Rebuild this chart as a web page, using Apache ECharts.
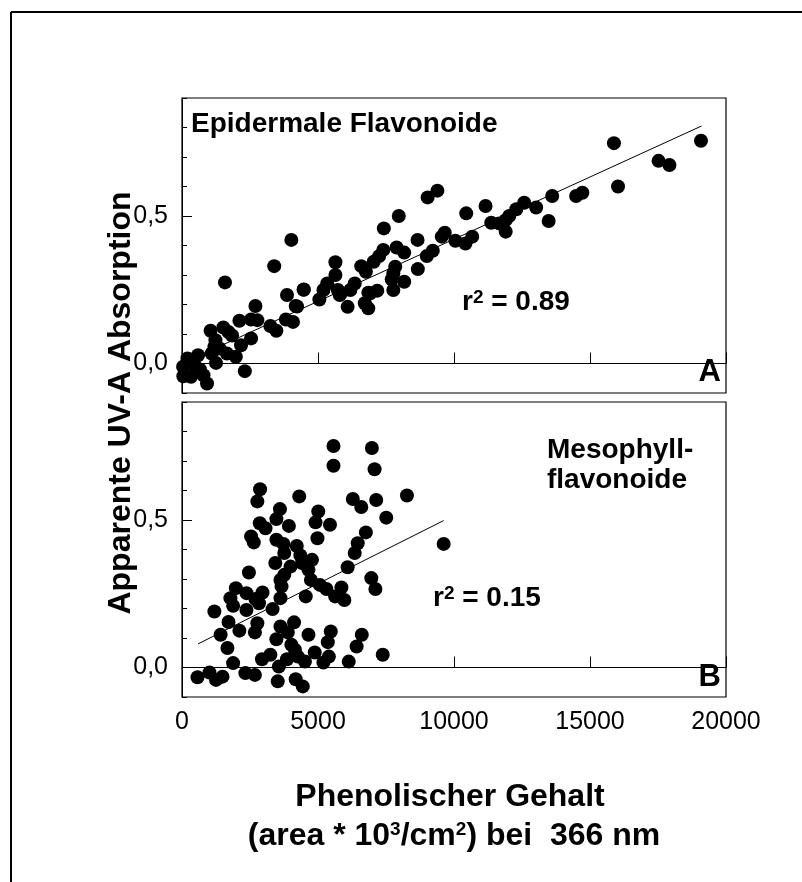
<!DOCTYPE html>
<html>
<head>
<meta charset="utf-8">
<script src="https://cdn.jsdelivr.net/npm/echarts@6/dist/echarts.min.js"></script>
<style>
  html, body { margin: 0; padding: 0; background: #fff; }
  #chart { width: 802px; height: 882px; }
</style>
</head>
<body>
<div id="chart"></div>
<script>
// Axis ticks
const xTicks = [0, 5000, 10000, 15000, 20000];
const yMajorTicks = [0, 0.5];

// Panel A: epidermal flavonoids [phenolic content, apparent UV-A absorption]
const epidermalPoints = [
  [15880,0.747],[19080,0.755],[17520,0.687],[17920,0.673],[16030,0.600],[13610,0.568],
  [14490,0.568],[14720,0.579],[13020,0.529],[12580,0.545],[12290,0.523],[12030,0.500],
  [11900,0.486],[11660,0.475],[11900,0.447],[13480,0.483],[11160,0.534],[11370,0.477],
  [10450,0.509],[10670,0.430],[10420,0.407],[10050,0.416],[9660,0.443],[9550,0.430],
  [9390,0.586],[9030,0.563],[7970,0.500],[7420,0.458],[8660,0.419],[9220,0.382],
  [9000,0.364],[8670,0.320],[7890,0.393],[8170,0.376],[7400,0.385],[7250,0.364],
  [7050,0.345],[6590,0.330],[6760,0.311],[7840,0.328],[7770,0.305],[7710,0.285],
  [8170,0.277],[7770,0.249],[7180,0.247],[6850,0.240],[6720,0.204],[6850,0.187],
  [6350,0.271],[6190,0.249],[6090,0.192],[5730,0.249],[5800,0.232],[5640,0.343],
  [5640,0.300],[5340,0.271],[5200,0.249],[5050,0.217],[4480,0.251],[4180,0.195],
  [3860,0.232],[4020,0.419],[3390,0.330],[3820,0.149],[4080,0.141],[3250,0.127],
  [3470,0.111],[2700,0.195],[2770,0.147],[2540,0.149],[2540,0.085],[2110,0.145],
  [1580,0.275],[1520,0.122],[1710,0.107],[2170,0.062],[1980,0.023],[1650,0.034],
  [1230,0.079],[1050,0.111],[1190,0.057],[1250,0.002],[2310,-0.026],[590,0.028],
  [200,0.017],[40,-0.011],[50,-0.043],[330,-0.045],[660,-0.020],[920,-0.068],
  [790,-0.040],[1090,0.034],[1380,0.051],[460,-0.006],[1840,0.095],[4230,0.193],
  [4470,0.250],[5820,0.236],[6920,0.238]
];

// Panel B: mesophyll flavonoids
const mesophyllPoints = [
  [5570,0.751],[6980,0.744],[5570,0.684],[7080,0.672],[2870,0.604],[2770,0.563],
  [4310,0.580],[6280,0.571],[6590,0.544],[7140,0.568],[8270,0.583],[7510,0.508],
  [3600,0.537],[3470,0.503],[2860,0.489],[3070,0.472],[3930,0.480],[5010,0.529],
  [4910,0.492],[5440,0.484],[4980,0.438],[9620,0.419],[6760,0.458],[6460,0.421],
  [6350,0.388],[6090,0.340],[2540,0.444],[2640,0.424],[3470,0.433],[3730,0.419],
  [4220,0.412],[4350,0.380],[3760,0.388],[3430,0.354],[3990,0.342],[4410,0.354],
  [4650,0.331],[3760,0.314],[3620,0.297],[3660,0.275],[2460,0.322],[4740,0.297],
  [5070,0.280],[5310,0.266],[5860,0.271],[5630,0.241],[5970,0.229],[6960,0.303],
  [7110,0.266],[4550,0.241],[3620,0.235],[3330,0.198],[1980,0.269],[2370,0.252],
  [1780,0.235],[1880,0.209],[2700,0.232],[2960,0.254],[2370,0.195],[1190,0.190],
  [1710,0.154],[2110,0.125],[2770,0.150],[2680,0.119],[1420,0.111],[3620,0.139],
  [4120,0.153],[3890,0.119],[3470,0.096],[4020,0.077],[4650,0.111],[5470,0.122],
  [5360,0.086],[6610,0.111],[6420,0.071],[7380,0.043],[1670,0.066],[1880,0.015],
  [2330,-0.019],[2680,-0.025],[2940,0.028],[3250,0.043],[3560,0.003],[3520,-0.047],
  [3860,0.028],[4150,0.060],[4260,0.037],[4520,0.020],[4880,0.051],[5400,0.037],
  [5200,0.017],[6130,0.020],[4180,-0.040],[4440,-0.064],[570,-0.033],[1010,-0.017],
  [1250,-0.042],[1490,-0.031],[4780,0.365],[2830,0.218]
];

// Regression lines (end points)
const epidermalFit = [[0, 0.0], [19100, 0.805]];
const mesophyllFit = [[590, 0.080], [9620, 0.498]];

// Text
const r2Values = ['0.89', '0.15'];
const panelLetters = ['A', 'B'];

const FONT = '"Liberation Sans", Arial, Helvetica, sans-serif';
const X_MIN = xTicks[0], X_MAX = xTicks[xTicks.length - 1];
const Y_MIN = -0.1, Y_MAX = 0.9;

const grids = [
  { left: 182, top: 98, width: 544, height: 295 },
  { left: 182, top: 402, width: 544, height: 295 }
];

function near(v, list) { return list.some(t => Math.abs(t - v) < 1e-6); }

function xAxisFor(gridIndex, showLabels) {
  return {
    type: 'value', gridIndex, min: X_MIN, max: X_MAX, interval: xTicks[1] - xTicks[0],
    axisLine: { show: true, lineStyle: { color: '#000', width: 1 } },
    axisTick: { show: true, inside: true, length: 11, lineStyle: { color: '#000', width: 1 } },
    splitLine: { show: false },
    axisLabel: {
      show: showLabels, margin: 13, color: '#000', fontSize: 25, fontFamily: FONT,
      formatter: v => near(v, xTicks) ? String(v) : ''
    }
  };
}

function yMinorAxis(gridIndex) {
  return {
    type: 'value', gridIndex, min: Y_MIN, max: Y_MAX, interval: 0.1,
    axisLine: { show: true, lineStyle: { color: '#000', width: 1 } },
    axisTick: { show: true, inside: true, length: 5, lineStyle: { color: '#000', width: 1 } },
    splitLine: { show: false },
    axisLabel: {
      show: true, margin: 14, color: '#000', fontSize: 25, fontFamily: FONT,
      formatter: v => near(v, yMajorTicks) ? Math.abs(v).toFixed(1).replace('.', ',') : ''
    }
  };
}

function yMajorAxis(gridIndex) {
  return {
    type: 'value', gridIndex, min: Y_MIN, max: Y_MAX, position: 'left',
    axisLine: { show: false },
    axisTick: { show: true, inside: true, length: 10, customValues: yMajorTicks,
                lineStyle: { color: '#000', width: 1 } },
    splitLine: { show: false },
    axisLabel: { show: false }
  };
}

const boldText = (size) => 'bold ' + size + 'px ' + FONT;

function plainText(x, y, text, size, align) {
  return {
    type: 'text', x, y, z: 100,
    style: { text, font: boldText(size), fill: '#000', align: align || 'left', verticalAlign: 'middle' }
  };
}

function r2Text(x, y, value) {
  return {
    type: 'text', x, y, z: 100,
    style: {
      text: '{b|r}{s|2}{b| = ' + value + '}',
      align: 'left', verticalAlign: 'middle', fill: '#000',
      rich: {
        b: { font: boldText(28), fill: '#000' },
        s: { font: boldText(19), fill: '#000', verticalAlign: 'top' }
      }
    }
  };
}

function dots(xAxisIndex, data) {
  return {
    type: 'scatter', xAxisIndex, yAxisIndex: xAxisIndex, data, symbol: 'circle', symbolSize: 14,
    itemStyle: { color: '#000', opacity: 1, borderWidth: 0 }, z: 3
  };
}

function fitLine(xAxisIndex, data) {
  return {
    type: 'line', xAxisIndex, yAxisIndex: xAxisIndex, data, showSymbol: false, symbol: 'none',
    lineStyle: { color: '#000', width: 1 }, z: 1, silent: true
  };
}

const chart = echarts.init(document.getElementById('chart'), null, { renderer: 'canvas' });

chart.setOption({
  animation: false,
  backgroundColor: '#fff',
  textStyle: { fontFamily: FONT },
  grid: grids.map(g => Object.assign({ show: true, borderColor: '#000', borderWidth: 1.2, backgroundColor: 'transparent' }, g)),
  xAxis: [xAxisFor(0, false), xAxisFor(1, true)],
  yAxis: [yMinorAxis(0), yMinorAxis(1), yMajorAxis(0), yMajorAxis(1)],
  series: [
    fitLine(0, epidermalFit),
    dots(0, epidermalPoints),
    fitLine(1, mesophyllFit),
    dots(1, mesophyllPoints)
  ],
  graphic: [
    // outer frame
    { type: 'line', shape: { x1: 11, y1: 12, x2: 802, y2: 12 }, style: { stroke: '#000', lineWidth: 2 } },
    { type: 'line', shape: { x1: 11, y1: 12, x2: 11, y2: 882 }, style: { stroke: '#000', lineWidth: 2 } },
    // panel titles
    plainText(191, 124, 'Epidermale Flavonoide', 28),
    plainText(547, 450, 'Mesophyll-', 28),
    plainText(547, 480, 'flavonoide', 28),
    // r² annotations
    r2Text(462, 302, r2Values[0]),
    r2Text(433, 598, r2Values[1]),
    // panel letters
    plainText(721, 372, panelLetters[0], 31, 'right'),
    plainText(721, 677, panelLetters[1], 31, 'right'),
    // axis titles
    {
      type: 'text', x: 121, y: 403, rotation: Math.PI / 2, z: 100,
      style: { text: 'Apparente UV-A Absorption', font: boldText(32), fill: '#000', align: 'center', verticalAlign: 'middle' }
    },
    plainText(450, 797, 'Phenolischer Gehalt', 32, 'center'),
    {
      type: 'text', x: 454, y: 836, z: 100,
      style: {
        text: '{b|(area * 10}{s|3}{b|/cm}{s|2}{b|) bei  366 nm}',
        align: 'center', verticalAlign: 'middle', fill: '#000',
        rich: {
          b: { font: boldText(32), fill: '#000' },
          s: { font: boldText(19), fill: '#000', verticalAlign: 'top' }
        }
      }
    }
  ]
});
</script>
</body>
</html>
